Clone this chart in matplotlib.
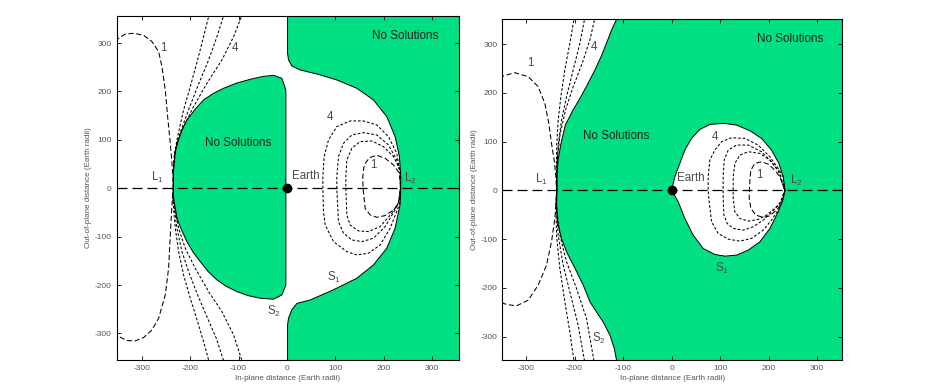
import matplotlib
matplotlib.use('Agg')
import matplotlib.pyplot as plt

plt.rcParams['font.family'] = ['Liberation Sans', 'DejaVu Sans']
plt.rcParams['mathtext.fontset'] = 'custom'
plt.rcParams['mathtext.rm'] = 'Liberation Sans'
plt.rcParams['mathtext.it'] = 'Liberation Sans:italic'
plt.rcParams['axes.unicode_minus'] = False

# ---------------- data (Earth radii) ----------------
tick_values = [-300, -200, -100, 0, 100, 200, 300]
tick_labels = ['-300', '-200', '-100', '0', '100', '200', '300']
xlabel_text = 'In-plane distance (Earth radii)'
ylabel_text = 'Out-of-plane distance (Earth radii)'

# Left panel: "No Solutions" region between L1 and Earth
left_inner_x = [-235, -234.2, -231.5, -227.4, -218, -206.7, -190, -172.3, -152, -130.9, -105, -75.8, -50,
                -27.6, -10.4, -2.1, -2.1, -10.4, -27.6, -55.2, -80, -103.4, -125, -144.7, -163, -179.2,
                -194, -206.7, -218, -227.4, -234.2]
left_inner_y = [0, 44.7, 70, 92.9, 118, 141.1, 163, 182.5, 196, 206.6, 217, 225.1, 231,
                233.4, 227.2, 203.1, -199.8, -220.5, -229.4, -227.4, -222, -213.6, -203, -189.5, -172, -151.6,
                -132, -110.3, -86, -62.1, -20.7]
# Left panel: outer "No Solutions" region beyond L2
left_outer_x = [1.4, 1.4, 3.4, 10.3, 27.5, 62, 103.3, 144.6, 179, 206.6, 223.8, 232.8, 235.5, 235.5,
                234, 223.8, 206.6, 179, 144.6, 96, 48, 20.7, 10.3, 3.4, 1.4, 1.4, 420, 420]
left_outer_y = [420, 278.9, 265.1, 252.7, 244.4, 236.2, 223.8, 206.6, 182.5, 148, 106.7, 65.4, 24, 0,
                -34.5, -82.6, -124, -158.5, -186, -210, -231, -238, -251, -268.6, -282.5, -420, -420, 420]

# Left panel contours around L1
left_l1_c1_x = [-356, -351.3, -334.1, -316.9, -296.2, -279, -265.2, -258.4, -251.5, -246.6, -241.1, -237.7,
                -235.6, -235, -237.7, -241.1, -244.6, -251.5, -265.2, -279, -296.2, -313.5, -330.7, -351.3, -356]
left_l1_c1_y = [305, 307.8, 318.8, 320.2, 316.1, 303, 282.3, 251.3, 203.1, 148, 92.9, 51.6,
                24, 0, -34.5, -96.5, -165.4, -220.5, -268.7, -292.8, -308.6, -315.5, -314.8, -304.5, -301]
left_l1_c2_x = [-160, -172.3, -184.7, -199.8, -213.6, -224.5, -232.5, -235, -235, -236, -230.8, -223.9,
                -213.6, -199.8, -184.7, -172.3, -160]
left_l1_c2_y = [362, 313.3, 265, 210, 161.8, 113.6, 72.3, 37.8, 0, -20.7, -82.7, -131,
                -179.2, -227.4, -275.6, -316.9, -362]
left_l1_c3_x = [-129, -144.7, -161.9, -184.7, -203.3, -221, -231.5, -234.7, -235, -235.5, -227.4, -217,
                -203.3, -184.7, -164, -146.1, -129]
left_l1_c3_y = [362, 313, 265, 210, 162, 113.6, 72.3, 37.8, 0, -20.7, -82.7, -131,
                -172.2, -220.5, -268.7, -310, -362]
left_l1_c4_x = [-91, -110.3, -134.4, -165.4, -193, -217, -230.5, -234.5, -235, -235, -223.9, -210.1,
                -189.5, -161.9, -134.4, -110.3, -91]
left_l1_c4_y = [362, 313, 265, 216.9, 168.7, 120.5, 79.2, 37.8, 0, -20.7, -82.7, -124.1,
                -165.4, -213.6, -254.9, -303.1, -362]

# Left panel contours around L2
left_l2_c1_x = [235, 232.8, 220.4, 203.1, 185.9, 170.8, 159.8, 157, 157.5, 161.8, 172.2, 185.9, 203.1, 220.4, 230.7, 235]
left_l2_c1_y = [0, 30.9, 48.2, 62, 68.1, 63.3, 48.2, 24, 0, -41.4, -55.2, -60, -56.6, -44.9, -31.1, 0]
left_l2_c2_x = [235, 234.1, 220.4, 199.7, 175.6, 151.5, 134.3, 124, 121.9, 121.9, 124, 130.8, 148.1, 168.7,
                192.8, 216.9, 230.7, 235]
left_l2_c2_y = [0, 37.8, 65.4, 86, 97.7, 96.4, 82.6, 58.5, 24, 0, -55.2, -75.8, -88.2, -89.6,
                -79.3, -51.7, -31.1, 0]
left_l2_c3_x = [235, 234.5, 227.2, 210, 185.9, 158.4, 134.3, 117.1, 106.7, 103.3, 103.3, 104.7, 106.7, 117.1,
                134.3, 155, 179, 203.1, 223.8, 232.8, 235]
left_l2_c3_y = [0, 30.9, 58.5, 89.5, 110.1, 115, 110.1, 92.9, 65.4, 24, 0, -31.1, -69, -93.1,
                -106.8, -110.3, -103.4, -79.3, -44.9, -24.2, 0]
left_l2_c4_x = [235, 234.5, 227.2, 210, 185.9, 158.4, 130.8, 103.3, 86.1, 77.1, 74.4, 74.4, 75.7, 79.2, 96.4,
                124, 144.6, 168.7, 192.8, 213.5, 227.2, 234.1, 235]
left_l2_c4_y = [0, 30.9, 72.3, 106.7, 130.8, 139.1, 139.1, 127.4, 99.8, 65.4, 24, 0, -48.3, -75.8, -110.3,
                -131, -137.8, -134.4, -117.2, -82.7, -48.3, -27.6, 0]

# Right panel: "No Solutions" region (everything right of the L1 boundary)
right_green_x = [-108, -113.4, -123.7, -134.1, -145, -158, -172, -187, -203, -219, -228, -234, -236.5, -236,
                 -237, -235, -227, -216.5, -199, -182, -168, -155, -141, -127, -118, -113.4, -110, 420, 420]
right_green_y = [420, 351, 329, 302, 275, 247, 220, 192, 165, 134, 96, 62, 28, 0,
                 -30, -64, -99, -126, -160, -194.5, -229, -249, -270, -297, -324.5, -348.5, -420, -420, 420]
# Right panel: region of solutions S1 between Earth and L2
right_lobe_x = [0, 6.8, 17.1, 27.4, 41.2, 58.4, 79, 108, 134, 161.5, 185.5, 206.1, 221.3, 230.2, 233.6,
                230.2, 219.9, 202.7, 182.1, 158, 134, 109.9, 89.3, 65.2, 44.6, 27.4, 13.7, 0]
right_lobe_y = [0, 27.9, 55.3, 82.7, 106.7, 125.1, 135.4, 137.5, 134, 122.4, 106.7, 82.7, 55.3, 27.9, 0,
                -16.5, -43.9, -78.1, -105.5, -122.6, -132.8, -134.9, -131.5, -119.2, -91.8, -57.6, -23.3, 0]

# Right panel contours around L1
right_l1_c1_x = [-356, -347.1, -323.1, -295.6, -275, -261.2, -253, -247.5, -242, -238.5, -237, -238,
                 -240.6, -247.5, -257.8, -275, -295.6, -319.6, -340.2, -356]
right_l1_c1_y = [234, 234.7, 241.5, 233.3, 212.8, 178.5, 137.5, 96.4, 62.2, 27.9, 0, -25,
                 -57.6, -105.5, -153.4, -194.5, -225.3, -236.9, -234.1, -228]
right_l1_c2_x = [-200, -209.7, -220, -228.2, -233.7, -236.5, -237.5, -237, -238.5, -237.1, -230.3, -220,
                 -209.7, -200]
right_l1_c2_y = [358, 301.8, 247, 192.2, 144.3, 96.4, 48.5, 0, -30.2, -91.8, -160.2, -228.7,
                 -290.3, -358]
right_l1_c3_x = [-178, -189, -202.8, -216.5, -226.8, -233.2, -236.5, -237, -238, -233.7, -223.4, -209.7,
                 -192.5, -178]
right_l1_c3_y = [358, 301.8, 247, 192.2, 144.3, 96.4, 48.5, 0, -30.2, -91.8, -153.4, -208.1,
                 -276.6, -358]
right_l1_c4_x = [-157, -168.4, -184.2, -202.8, -218.6, -229.6, -235, -237, -237.5, -230.3, -216.5, -195.9,
                 -175.3, -158.5]
right_l1_c4_y = [358, 308.6, 260.7, 212.8, 164.8, 116.9, 69, 0, -30.2, -91.8, -146.5, -201.3,
                 -262.9, -358]

# Right panel contours around L2
right_l2_c1_x = [233.6, 223.3, 213, 199.3, 185.5, 171.8, 163.5, 161.5, 160.5, 160.1, 163.5, 173.8, 189, 202.7,
                 216.4, 226.8, 233.6]
right_l2_c1_y = [0, 27.9, 41.6, 53.9, 58.7, 55.3, 41.6, 21.1, 0, -16.5, -37, -50.7, -55.5, -52.1,
                 -40.4, -26.7, 0]
right_l2_c2_x = [233.6, 219.9, 202.7, 182.1, 158, 140.8, 130.5, 127.1, 127, 127.1, 130.5, 140.8, 158, 178.6,
                 195.8, 213, 225.4, 233.6]
right_l2_c2_y = [0, 41.6, 62.2, 75.9, 79.3, 72.4, 55.3, 27.9, 0, -16.5, -43.9, -57.6, -63, -59.6,
                 -50.7, -37, -23.3, 0]
right_l2_c3_x = [233.6, 223.3, 206.1, 185.5, 158, 134, 116.8, 108.5, 106.5, 106.3, 106.5, 107.9, 114.7, 127.1,
                 147.7, 168.3, 189, 206.1, 223.3, 233.6]
right_l2_c3_y = [0, 34.8, 58.7, 79.3, 93, 93, 82.7, 62.2, 27.9, 0, -16.5, -50.7, -67.8, -78.1,
                 -81.5, -74.7, -61, -45.2, -26.7, 0]
right_l2_c4_x = [233.6, 230.2, 219.9, 202.7, 178.6, 151.2, 123.7, 103, 89.3, 79, 75.5, 75.5, 77.6, 82.4, 96.2,
                 116.8, 140.8, 164.9, 189, 206.1, 219.9, 228.1, 233.6]
right_l2_c4_y = [0, 27.9, 45, 69, 92.9, 106.7, 108, 99.8, 82.7, 62.2, 27.9, 0, -23.3, -64.4, -88.4,
                 -100, -104.1, -98.6, -81.5, -61, -40.4, -23.3, 0]

# Annotations: (text, x, y)
left_labels = [('1', -255, 289), ('4', -107, 289), ('L$_1$', -268.7, 22.7), ('Earth', 40, 25.4),
               ('4', 89.5, 148), ('1', 179, 48.2), ('L$_2$', 256.2, 20.6), ('S$_1$', 96.4, -184),
               ('S$_2$', -27.6, -255)]
left_nosol = [(-100, 94.3), (244.5, 315.4)]
right_labels = [('1', -292, 260.7), ('4', -159.5, 295), ('L$_1$', -268, 22.5), ('Earth', 39.8, 24.5),
                ('4', 89.3, 110.1), ('1', 180.7, 31.4), ('L$_2$', 256.3, 21.1), ('S$_1$', 103, -160.2),
                ('S$_2$', -149.2, -304)]
right_nosol = [(-113.4, 111.5), (243.9, 310)]

# ---------------- drawing ----------------
GREEN = '#00DF82'
LABEL_GREY = '#4a4a4a'
fig = plt.figure(figsize=(9.26, 3.9), dpi=100)
axL = fig.add_axes([0.1260, 0.0769, 0.3697, 0.8821])
axR = fig.add_axes([0.5424, 0.0769, 0.3672, 0.8736])

def contour(ax, x, y, long=False):
    ax.plot(x, y, color='black', lw=0.75,
            dashes=(5, 2.5) if long else (2.6, 1.8), zorder=3)

def style(ax, xlim, ylim):
    ax.set_xlim(*xlim)
    ax.set_ylim(*ylim)
    ax.set_xticks(tick_values)
    ax.set_xticklabels(tick_labels)
    ax.set_yticks(tick_values)
    ax.set_yticklabels(tick_labels)
    ax.tick_params(direction='in', top=True, right=True, length=3, width=0.6,
                   labelsize=6, labelcolor='#555555', pad=3.5)
    for s in ax.spines.values():
        s.set_linewidth(0.8)
    ax.set_xlabel(xlabel_text, fontsize=5.8, color='#555555', labelpad=2.5)
    ax.set_ylabel(ylabel_text, fontsize=5.8, color='#555555', labelpad=2)
    ax.axhline(0, color='black', lw=0.9, dashes=(8, 4), zorder=3)
    ax.plot([0], [0], 'o', color='black', ms=6, zorder=5)

# Left panel
axL.fill(left_inner_x, left_inner_y, facecolor=GREEN, edgecolor='black', lw=0.7, zorder=1)
axL.fill(left_outer_x, left_outer_y, facecolor=GREEN, edgecolor='black', lw=0.7, zorder=1)
contour(axL, left_l1_c1_x, left_l1_c1_y, long=True)
contour(axL, left_l1_c2_x, left_l1_c2_y)
contour(axL, left_l1_c3_x, left_l1_c3_y)
contour(axL, left_l1_c4_x, left_l1_c4_y)
contour(axL, left_l2_c1_x, left_l2_c1_y, long=True)
contour(axL, left_l2_c2_x, left_l2_c2_y)
contour(axL, left_l2_c3_x, left_l2_c3_y)
contour(axL, left_l2_c4_x, left_l2_c4_y)
style(axL, (-352, 356), (-355, 356))
for t, x, y in left_labels:
    axL.text(x, y, t, fontsize=8.3, color=LABEL_GREY, ha='center', va='center', zorder=6)
for x, y in left_nosol:
    axL.text(x, y, 'No Solutions', fontsize=8.4, color='#222222', ha='center', va='center', zorder=6)

# Right panel
axR.fill(right_green_x, right_green_y, facecolor=GREEN, edgecolor='black', lw=0.7, zorder=1)
axR.fill(right_lobe_x, right_lobe_y, facecolor='white', edgecolor='black', lw=0.7, zorder=2)
contour(axR, right_l1_c1_x, right_l1_c1_y, long=True)
contour(axR, right_l1_c2_x, right_l1_c2_y)
contour(axR, right_l1_c3_x, right_l1_c3_y)
contour(axR, right_l1_c4_x, right_l1_c4_y)
contour(axR, right_l2_c1_x, right_l2_c1_y, long=True)
contour(axR, right_l2_c2_x, right_l2_c2_y)
contour(axR, right_l2_c3_x, right_l2_c3_y)
contour(axR, right_l2_c4_x, right_l2_c4_y)
style(axR, (-349, 352), (-348, 351))
for t, x, y in right_labels:
    axR.text(x, y, t, fontsize=8.3, color=LABEL_GREY, ha='center', va='center', zorder=6)
for x, y in right_nosol:
    axR.text(x, y, 'No Solutions', fontsize=8.4, color='#222222', ha='center', va='center', zorder=6)

fig.savefig('out.png', dpi=100)
